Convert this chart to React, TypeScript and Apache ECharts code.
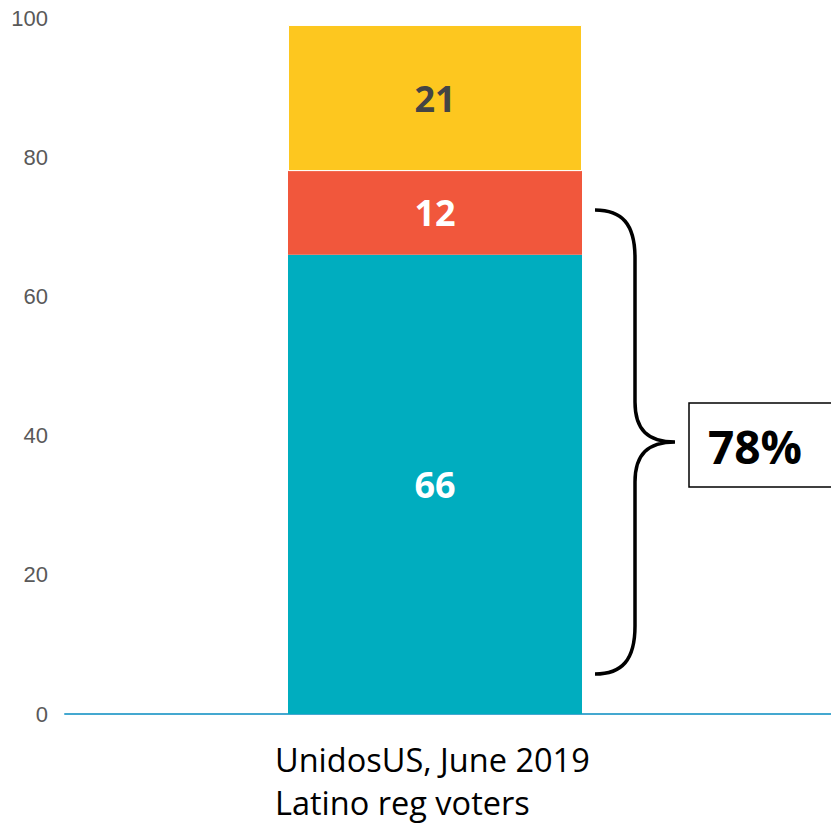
import React, { useEffect, useRef } from "react";
import * as echarts from "echarts";

const categories = ["UnidosUS, June 2019\nLatino reg voters"];
const seriesNames = ["Teal", "Red", "Yellow"];
const tealValues = [66];
const redValues = [12];
const yellowValues = [21];
const bracketLabel = "78%";
const yTicks = { min: 0, max: 100, interval: 20 };

const BRACE_D =
  "M595,210 C622,210 635,224 635,258 L635,402 C635,430 648,442 675,442 C648,442 635,454 635,482 L635,626 C635,660 622,674 595,674";

export default function App() {
  const ref = useRef<HTMLDivElement>(null);
  useEffect(() => {
    if (!ref.current) return;
    echarts.graphic.registerShape("brace", echarts.graphic.extendPath(BRACE_D, {}) as any);
    const chart = echarts.init(ref.current, null, { renderer: "svg" });
    const labelFont = "'Open Sans', sans-serif";
    chart.setOption({
      animation: false,
      grid: { left: 65, right: 26, top: 18, bottom: 110, containLabel: false },
      xAxis: {
        type: "category",
        data: categories,
        axisTick: { show: false },
        axisLine: { show: true, lineStyle: { color: "#44A8D0", width: 2 } },
        axisLabel: {
          margin: 24,
          formatter: (v: string) =>
            v
              .split("\n")
              .map((s) => `{a|${s}}`)
              .join("\n"),
          rich: {
            a: {
              width: 320,
              align: "left",
              fontFamily: labelFont,
              fontSize: 32.5,
              lineHeight: 43,
              color: "#000000",
            },
          },
        },
      },
      yAxis: {
        type: "value",
        min: yTicks.min,
        max: yTicks.max,
        interval: yTicks.interval,
        axisLine: { show: false },
        axisTick: { show: false },
        splitLine: { show: false },
        axisLabel: {
          margin: 17,
          color: "#595959",
          fontSize: 22,
          fontFamily: "'Liberation Sans', Arial, sans-serif",
        },
      },
      series: [
        {
          name: seriesNames[0],
          type: "bar",
          stack: "s",
          data: tealValues,
          barWidth: 294,
          itemStyle: { color: "#00ADBF" },
          label: {
            show: true,
            position: "inside",
            color: "#FFFFFF",
            fontWeight: "bold",
            fontSize: 36,
            fontFamily: labelFont,
          },
        },
        {
          name: seriesNames[1],
          type: "bar",
          stack: "s",
          data: redValues,
          barWidth: 294,
          itemStyle: { color: "#F1573C" },
          label: {
            show: true,
            position: "inside",
            color: "#FFFFFF",
            fontWeight: "bold",
            fontSize: 36,
            fontFamily: labelFont,
          },
        },
        {
          name: seriesNames[2],
          type: "bar",
          stack: "s",
          data: yellowValues,
          barWidth: 294,
          itemStyle: { color: "#FDC71F", borderColor: "#FFFFFF", borderWidth: 1 },
          label: {
            show: true,
            position: "inside",
            color: "#444444",
            fontWeight: "bold",
            fontSize: 36,
            fontFamily: labelFont,
          },
        },
      ],
      graphic: [
        {
          type: "line",
          shape: { x1: 804, y1: 714, x2: 831, y2: 714 },
          style: { stroke: "#44A8D0", lineWidth: 2 },
        },
        {
          type: "brace",
          x: 0,
          y: 0,
          style: { fill: "none", stroke: "#000000", lineWidth: 3.5 },
        },
        {
          type: "rect",
          shape: { x: 689, y: 403, width: 160, height: 84 },
          style: { fill: "#FFFFFF", stroke: "#000000", lineWidth: 1.5 },
        },
        {
          type: "text",
          x: 755,
          y: 446,
          style: {
            text: bracketLabel,
            fill: "#000000",
            fontSize: 46,
            fontWeight: "bold",
            fontFamily: labelFont,
            align: "center",
            verticalAlign: "middle",
          },
        },
      ],
    });
    return () => chart.dispose();
  }, []);
  return (
    <div
      ref={ref}
      style={{ position: "absolute", left: 0, top: 0, width: 831, height: 824 }}
    />
  );
}
